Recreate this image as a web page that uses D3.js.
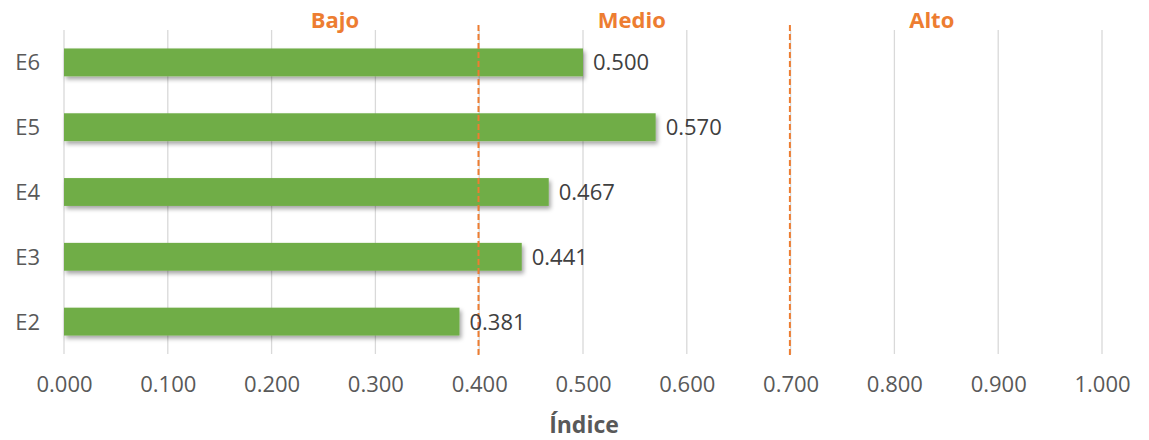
<!DOCTYPE html>
<html><head><meta charset="utf-8">
<script src="https://cdn.jsdelivr.net/npm/d3@7"></script>
<style>body{margin:0;background:#fff}svg{display:block}</style>
</head><body>
<script>
const categories = ["E6","E5","E4","E3","E2"];
const values = [0.500, 0.570, 0.467, 0.441, 0.381];
const tickValues = [0,0.1,0.2,0.3,0.4,0.5,0.6,0.7,0.8,0.9,1.0];
const thresholds = [0.4, 0.7];
const zoneLabels = ["Bajo","Medio","Alto"];
const zoneCenters = [0.261, 0.547, 0.836];
const axisTitle = "Índice";

const W=1149,H=440;
const x0=64,x1=1102,yTop=30,yBot=354;
const font="'Open Sans', sans-serif";
const svg=d3.select("body").append("svg").attr("width",W).attr("height",H);
const defs=svg.append("defs");
const f=defs.append("filter").attr("id","sh").attr("x","-5%").attr("y","-30%").attr("width","115%").attr("height","180%");
f.append("feDropShadow").attr("dx",2).attr("dy",3).attr("stdDeviation",2).attr("flood-color","#000").attr("flood-opacity",0.35);

const x=d3.scaleLinear().domain([0,1]).range([x0,x1]);
const y=d3.scaleBand().domain(categories).range([yTop,yBot]).paddingInner(0.57).paddingOuter(0.285);

svg.append("g").selectAll("line").data(tickValues).join("line")
 .attr("x1",d=>x(d)).attr("x2",d=>x(d)).attr("y1",yTop).attr("y2",yBot)
 .attr("stroke","#d9d9d9").attr("stroke-width",1.3);

svg.append("g").selectAll("rect").data(values).join("rect")
 .attr("x",x(0)).attr("y",(d,i)=>y(categories[i])).attr("width",d=>x(d)-x(0)).attr("height",y.bandwidth())
 .attr("fill","#70AD47").attr("filter","url(#sh)");

svg.append("g").selectAll("line").data(thresholds).join("line")
 .attr("x1",d=>x(d)-0.7).attr("x2",d=>x(d)-0.7).attr("y1",25).attr("y2",357)
 .attr("stroke","#ED7D31").attr("stroke-width",2).attr("stroke-dasharray","6,3");

svg.append("g").selectAll("text").data(values).join("text")
 .attr("x",d=>x(d)+10).attr("y",(d,i)=>y(categories[i])+y.bandwidth()/2).attr("dy","0.36em")
 .attr("font-family",font).attr("font-size",22).attr("fill","#404040").text(d=>d.toFixed(3));

svg.append("g").selectAll("text").data(categories).join("text")
 .attr("x",x0-24).attr("y",d=>y(d)+y.bandwidth()/2).attr("dy","0.36em").attr("text-anchor","end")
 .attr("font-family",font).attr("font-size",22).attr("fill","#595959").text(d=>d);

const ax=svg.append("g").attr("transform",`translate(0,${yBot})`)
 .call(d3.axisBottom(x).tickValues(tickValues).tickFormat(d3.format(".3f")).tickSize(0).tickPadding(22));
ax.select(".domain").remove();
ax.selectAll("text").attr("font-family",font).attr("font-size",22).attr("fill","#595959");

svg.append("text").attr("x",584).attr("y",433).attr("text-anchor","middle")
 .attr("font-family",font).attr("font-size",23).attr("font-weight","bold").attr("fill","#595959").text(axisTitle);

svg.append("g").selectAll("text").data(zoneLabels).join("text")
 .attr("x",(d,i)=>x(zoneCenters[i])).attr("y",28).attr("text-anchor","middle")
 .attr("font-family",font).attr("font-size",22).attr("font-weight","bold").attr("fill","#ED7D31").text(d=>d);
</script>
</body></html>
